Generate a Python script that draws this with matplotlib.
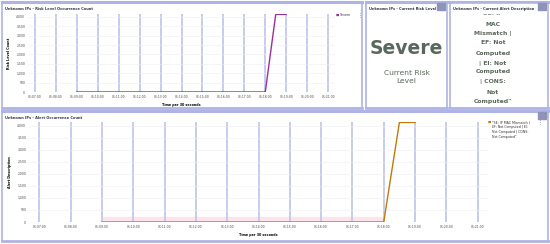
import matplotlib
matplotlib.use('Agg')
import matplotlib.pyplot as plt
from matplotlib.patches import Rectangle

W, H = 550, 244

# tick labels (one per minute) and series sampled every 30 s
tick_labels = ['01:07:00', '01:08:00', '01:09:00', '01:10:00', '01:11:00',
               '01:12:00', '01:13:00', '01:14:00', '01:15:00', '01:16:00',
               '01:17:00', '01:18:00', '01:19:00', '01:20:00', '01:21:00']
series_start = 2  # first sample at 01:09:00
risk_counts = [0, 0, 0, 0, 0, 0, 0, 0, 0, 0, 0, 0, 0, 0, 0, 0, 0, 0, 0, 4130, 4130]
alert_counts = [0, 0, 0, 0, 0, 0, 0, 0, 0, 0, 0, 0, 0, 0, 0, 0, 0, 0, 0, 4130, 4130]
y_ticks = [0, 500, 1000, 1500, 2000, 2500, 3000, 3500, 4000]

risk_label = 'Severe'
alert_label = '"SE: IP MAC Mismatch |\nEF: Not Computed | EI:\nNot Computed | CONS:\nNot Computed"'
alert_desc = ['SE: IP', 'MAC', 'Mismatch |', 'EF: Not', 'Computed',
              '| EI: Not', 'Computed', '| CONS:', 'Not', 'Computed"']

border = '#aeb4e3'
vgrid = '#c3c8ee'
txt = '#5a685b'

fig = plt.figure(figsize=(W / 100, H / 100), dpi=100)
fig.patch.set_facecolor('white')


def box(x0, y0, x1, y1):
    # pixel box (top-left origin) -> figure fraction rect
    return [x0 / W, 1 - y1 / H, (x1 - x0) / W, (y1 - y0) / H]


def panel(x0, y0, x1, y1, title, icon=True):
    ax = fig.add_axes(box(x0, y0, x1, y1))
    ax.set_xticks([]); ax.set_yticks([])
    ax.set_xlim(0, 1); ax.set_ylim(0, 1)
    for s in ax.spines.values():
        s.set_color(border); s.set_linewidth(1.2)
    ax.spines['top'].set_linewidth(2.2)
    ax.spines['bottom'].set_linewidth(2.0)
    ax.text(3 / (x1 - x0), 1 - 7 / (y1 - y0), title, fontsize=2.6, fontweight='bold',
            color='#333a44', va='center', ha='left', zorder=6)
    if icon:
        ax.add_patch(Rectangle((1 - 10 / (x1 - x0), 1 - 8 / (y1 - y0)), 8 / (x1 - x0), 7 / (y1 - y0),
                               color='#8f93b8', transform=ax.transAxes, zorder=6))
    return ax


def chart(rect, values, color, ylabel, leg_label, leg_xy, spacing):
    ax = fig.add_axes(box(*rect))
    xs = [series_start + i * 0.5 for i in range(len(values))]
    ax.plot(xs, values, color=color, lw=1.0, zorder=3)
    ax.set_xticks(range(len(tick_labels)))
    ax.set_xticklabels(tick_labels, fontsize=2.2, color='#444')
    ax.set_yticks(y_ticks)
    ax.set_yticklabels([f'{v:,}' for v in y_ticks], fontsize=2.2, color='#444')
    ax.set_xlim(-0.33, len(tick_labels) - 1 + 0.33)
    ax.set_ylim(0, 4150)
    ax.tick_params(length=0, pad=2)
    ax.grid(axis='x', color=vgrid, lw=1.3)
    ax.grid(axis='y', color='#eeeeee', lw=0.4)
    ax.set_axisbelow(True)
    for s in ax.spines.values():
        s.set_visible(False)
    ax.set_ylabel(ylabel, fontsize=2.4, fontweight='bold', labelpad=4)
    ax.set_xlabel('Time per 30 seconds', fontsize=2.4, fontweight='bold', labelpad=3)
    fig.text(leg_xy[0] / W, 1 - leg_xy[1] / H, '\u25a0', color=color, fontsize=2.5,
             va='top', ha='left')
    fig.text((leg_xy[0] + 4) / W, 1 - leg_xy[1] / H, leg_label, fontsize=2.3,
             va='top', ha='left', color='#333', linespacing=1.3)
    fig.text((leg_xy[0] + spacing) / W, 1 - leg_xy[1] / H, '\u22ee', fontsize=3.5,
             va='top', ha='left', color='#555')
    return ax


# panels
panel(2, 2, 362, 108, 'Unknown IPs - Risk Level Occurrence Count', icon=False)
p2 = panel(366, 2, 447, 108, 'Unknown IPs - Current Risk Level')
p3 = panel(450, 2, 548, 108, 'Unknown IPs - Current Alert Description')
panel(2, 111, 548, 241, 'Unknown IPs - Alert Occurrence Count')

top = chart((28, 14, 335, 92), risk_counts, '#9a2f9a', 'Risk Level Count',
            risk_label, (336, 13), 22)
bot = chart((29, 122, 488, 222), alert_counts, '#c07a0c', 'Alert Description',
            alert_label, (488, 120), 50)

# light highlight band in the alert chart
bot.axhspan(0, 200, xmin=(series_start + 0.33) / 14.66, xmax=(11 + 0.33) / 14.66,
            color='#fde3ec', zorder=0)

# current risk level
p2.text(0.5, 1 - 46 / 106, risk_label, fontsize=13.5, fontweight='bold', color=txt,
        ha='center', va='center')
p2.text(0.5, 1 - 75 / 106, 'Current Risk\nLevel', fontsize=5.4, color=txt,
        ha='center', va='center', linespacing=1.35)

# current alert description (scrolled, top line cut off)
ys = [12, 23, 33, 42, 52, 62, 71, 81, 91, 101]
for line, y in zip(alert_desc, ys):
    p3.text(0.44, 1 - (y - 1) / 106, line, fontsize=4.4, fontweight='bold', color=txt,
            ha='center', va='center', clip_on=True)
p3.add_patch(Rectangle((0.02, 1 - 11 / 106), 0.96, 9.5 / 106, color='white', zorder=4,
                       transform=p3.transAxes))

fig.savefig('out.png', dpi=100)
